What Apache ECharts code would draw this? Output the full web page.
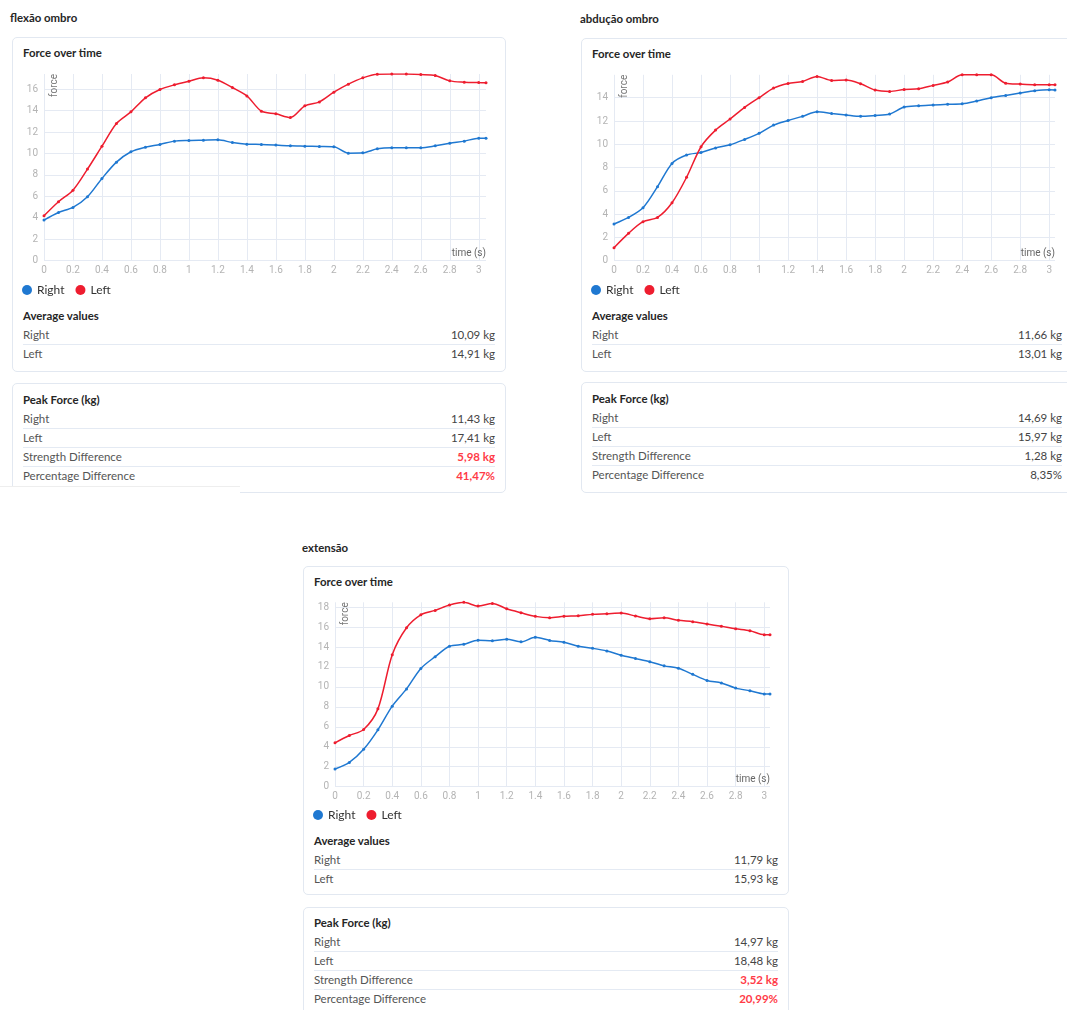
<!DOCTYPE html>
<html>
<head>
<meta charset="utf-8">
<title>Force report</title>
<script src="https://cdn.jsdelivr.net/npm/echarts@6/dist/echarts.min.js"></script>
<style>
  html, body { margin: 0; padding: 0; background: #fff; }
  body { position: relative; width: 1067px; height: 1010px; overflow: hidden;
         font-family: Lato, "Noto Sans", sans-serif; }
  .h { position: absolute; font-weight: 700; font-size: 11.4px; color: #262626;
       line-height: 14px; white-space: nowrap; }
  .card { position: absolute; border: 1px solid #e2e8f1; border-radius: 5px;
          box-sizing: border-box; background: #fff; }
  .row { position: absolute; height: 19px; line-height: 19px; font-size: 11.5px;
         color: #555; white-space: nowrap; }
  .row .v { position: absolute; right: 0; top: 0; color: #444; }
  .row .v.alert { color: #ff3b47; font-weight: 700; }
  .sep { position: absolute; height: 0; border-top: 1px solid #e4eaf3; }
  .mask { position: absolute; left: 0; top: 486px; width: 240px; height: 12px;
          background: #fff; border-top: 1px solid #eeeeee; z-index: 3; }
  #chart { position: absolute; left: 0; top: 0; width: 1067px; height: 1010px; z-index: 2; }
</style>
</head>
<body>
<div id="chart"></div>
<script>
// ---- sample times (s) ----
const flexTime = [0, 0.1, 0.2, 0.3, 0.4, 0.5, 0.6, 0.7, 0.8, 0.9, 1.0, 1.1, 1.2, 1.3, 1.4, 1.5,
                  1.6, 1.7, 1.8, 1.9, 2.0, 2.1, 2.2, 2.3, 2.4, 2.5, 2.6, 2.7, 2.8, 2.9, 3.0, 3.05];
const abdTime  = [0, 0.1, 0.2, 0.3, 0.4, 0.5, 0.6, 0.7, 0.8, 0.9, 1.0, 1.1, 1.2, 1.3, 1.4, 1.5,
                  1.6, 1.7, 1.8, 1.9, 2.0, 2.1, 2.2, 2.3, 2.4, 2.5, 2.6, 2.7, 2.8, 2.9, 3.0, 3.04];
const extTime  = [0, 0.1, 0.2, 0.3, 0.4, 0.5, 0.6, 0.7, 0.8, 0.9, 1.0, 1.1, 1.2, 1.3, 1.4, 1.5,
                  1.6, 1.7, 1.8, 1.9, 2.0, 2.1, 2.2, 2.3, 2.4, 2.5, 2.6, 2.7, 2.8, 2.9, 3.0, 3.04];

// ---- force (kg) : flexão ombro ----
const flexRight = [3.79, 4.5, 4.97, 5.96, 7.67, 9.19, 10.16, 10.59, 10.84, 11.15, 11.21, 11.24, 11.27, 11.02, 10.87, 10.84,
                   10.78, 10.71, 10.68, 10.65, 10.62, 10.03, 10.06, 10.43, 10.53, 10.53, 10.53, 10.71, 10.96, 11.15, 11.43, 11.43];
const flexLeft  = [4.19, 5.5, 6.58, 8.54, 10.68, 12.8, 13.88, 15.19, 15.96, 16.4, 16.74, 17.05, 16.83, 16.15, 15.37, 13.94,
                   13.7, 13.35, 14.44, 14.81, 15.71, 16.46, 17.05, 17.39, 17.41, 17.4, 17.36, 17.27, 16.77, 16.65, 16.61, 16.6];

// ---- force (kg) : abdução ombro ----
const abdRight = [3.15, 3.72, 4.55, 6.36, 8.36, 9.08, 9.3, 9.68, 9.96, 10.42, 10.94, 11.65, 12.05, 12.4, 12.8, 12.65,
                  12.52, 12.4, 12.48, 12.6, 13.2, 13.31, 13.37, 13.43, 13.48, 13.72, 14.0, 14.2, 14.4, 14.6, 14.69, 14.66];
const abdLeft  = [1.12, 2.35, 3.35, 3.72, 4.98, 7.16, 9.79, 11.22, 12.17, 13.17, 14.0, 14.83, 15.23, 15.4, 15.83, 15.49,
                  15.52, 15.2, 14.66, 14.54, 14.71, 14.77, 15.06, 15.35, 15.97, 15.97, 15.97, 15.25, 15.17, 15.12, 15.12, 15.12];

// ---- force (kg) : extensão ----
const extRight = [1.77, 2.43, 3.75, 5.7, 8.07, 9.8, 11.85, 13.03, 14.08, 14.27, 14.68, 14.62, 14.77, 14.52, 14.97, 14.66,
                  14.47, 14.08, 13.87, 13.6, 13.18, 12.85, 12.52, 12.11, 11.87, 11.26, 10.65, 10.4, 9.88, 9.61, 9.3, 9.3];
const extLeft  = [4.4, 5.13, 5.73, 7.8, 13.23, 15.93, 17.23, 17.67, 18.2, 18.48, 18.1, 18.37, 17.83, 17.43, 17.07, 16.93,
                  17.07, 17.13, 17.27, 17.33, 17.4, 17.1, 16.83, 16.93, 16.67, 16.53, 16.3, 16.07, 15.83, 15.63, 15.23, 15.23];

// ---- summary tables ----
const sideNames  = ['Right', 'Left'];
const peakLabels = ['Right', 'Left', 'Strength Difference', 'Percentage Difference'];
const flexAvg  = ['10,09 kg', '14,91 kg'];
const flexPeak = ['11,43 kg', '17,41 kg', '5,98 kg', '41,47%'];
const abdAvg   = ['11,66 kg', '13,01 kg'];
const abdPeak  = ['14,69 kg', '15,97 kg', '1,28 kg', '8,35%'];
const extAvg   = ['11,79 kg', '15,93 kg'];
const extPeak  = ['14,97 kg', '18,48 kg', '3,52 kg', '20,99%'];
const flexAlert = [false, false, true, true];
const abdAlert  = [false, false, false, false];
const extAlert  = [false, false, true, true];

const BLUE = '#1f78d1';
const RED = '#ee1d2f';

// page layout of each exercise block
const panels = [
  { title: 'flexão ombro', time: flexTime, right: flexRight, left: flexLeft,
    avg: flexAvg, peak: flexPeak, alert: flexAlert,
    titlePos: [10, 18], chartCard: [12, 37, 494, 335], peakCard: [12, 383, 494, 110],
    textL: 23, textR: 495, fotY: 53, legendY: 290, avgY: 316, avgRows: [334, 353],
    peakY: 400, peakRows: [418, 437, 456, 475],
    grid: { left: 44, top: 74, width: 442, height: 186.7 } },
  { title: 'abdução ombro', time: abdTime, right: abdRight, left: abdLeft,
    avg: abdAvg, peak: abdPeak, alert: abdAlert,
    titlePos: [580, 19], chartCard: [581, 38, 500, 334], peakCard: [581, 382, 500, 111],
    textL: 592, textR: 1062, fotY: 54, legendY: 290, avgY: 316, avgRows: [334, 353],
    peakY: 399, peakRows: [417, 436, 455, 474],
    grid: { left: 614, top: 74.8, width: 441, height: 185.9 } },
  { title: 'extensão', time: extTime, right: extRight, left: extLeft,
    avg: extAvg, peak: extPeak, alert: extAlert,
    titlePos: [302, 548], chartCard: [303, 566, 486, 329], peakCard: [303, 907, 486, 130],
    textL: 314, textR: 778, fotY: 582, legendY: 815, avgY: 841, avgRows: [859, 878],
    peakY: 923, peakRows: [941, 960, 979, 998],
    grid: { left: 335, top: 602.3, width: 435, height: 184.4 } }
];

function el(cls, css, text) {
  const d = document.createElement('div');
  d.className = cls;
  Object.assign(d.style, css);
  if (text !== undefined) d.textContent = text;
  document.body.appendChild(d);
  return d;
}
function px(v) { return v + 'px'; }

function heading(text, x, cy) {
  el('h', { left: px(x), top: px(cy - 7) }, text);
}

function rows(p, labels, values, centers, alerts) {
  const w = p.textR - p.textL;
  centers.forEach((cy, i) => {
    const r = el('row', { left: px(p.textL), top: px(cy - 9.5), width: px(w) }, labels[i]);
    const v = document.createElement('span');
    v.className = 'v' + (alerts && alerts[i] ? ' alert' : '');
    v.textContent = values[i];
    r.appendChild(v);
    if (i < centers.length - 1) {
      const mid = (cy + centers[i + 1]) / 2;
      el('sep', { left: px(p.textL), top: px(Math.round(mid)), width: px(w) });
    }
  });
}

panels.forEach(p => {
  heading(p.title, p.titlePos[0], p.titlePos[1]);
  const c1 = p.chartCard, c2 = p.peakCard;
  el('card', { left: px(c1[0]), top: px(c1[1]), width: px(c1[2]), height: px(c1[3]) });
  el('card', { left: px(c2[0]), top: px(c2[1]), width: px(c2[2]), height: px(c2[3]) });
  heading('Force over time', p.textL, p.fotY);
  heading('Average values', p.textL, p.avgY);
  rows(p, sideNames, p.avg, p.avgRows, null);
  heading('Peak Force (kg)', p.textL, p.peakY);
  rows(p, peakLabels, p.peak, p.peakRows, p.alert);
});
el('mask', {});

// ---- charts: one grid per exercise ----
const gridColor = '#e5eaf3';
const labelColor = '#b4b4b4';
const option = {
  backgroundColor: 'transparent',
  animation: false,
  textStyle: { fontFamily: 'Roboto, sans-serif' },
  grid: panels.map(p => Object.assign({}, p.grid)),
  legend: panels.map(p => ({
    data: sideNames,
    left: p.textL - 1,
    top: p.legendY - 6,
    padding: 0,
    icon: 'circle',
    itemWidth: 10,
    itemHeight: 10,
    itemGap: 11,
    selectedMode: false,
    textStyle: { fontSize: 12, color: '#333', fontFamily: 'Lato, sans-serif' }
  })),
  xAxis: panels.map((p, i) => ({
    type: 'value',
    gridIndex: i,
    min: 0,
    max: p.time[p.time.length - 1],
    interval: 0.2,
    axisLine: { show: false },
    axisTick: { show: false },
    axisLabel: {
      color: labelColor, fontSize: 10, margin: 5, showMaxLabel: false,
      formatter: v => String(Math.round(v * 10) / 10)
    },
    splitLine: { show: true, showMaxLine: false, lineStyle: { color: gridColor, width: 1 } },
    name: 'time (s)',
    nameLocation: 'end',
    nameGap: 0,
    nameTextStyle: { color: '#666', fontSize: 10, align: 'right', verticalAlign: 'bottom',
                     padding: [0, 0, 2, 0] }
  })),
  yAxis: panels.map((p, i) => ({
    type: 'value',
    gridIndex: i,
    min: 0,
    max: Math.max(...p.right, ...p.left),
    interval: 2,
    axisLine: { show: false },
    axisTick: { show: false },
    axisLabel: { color: labelColor, fontSize: 10, margin: 6, showMaxLabel: false },
    splitLine: { show: true, showMaxLine: false, lineStyle: { color: gridColor, width: 1 } },
    name: 'force',
    nameLocation: 'end',
    nameGap: 0,
    nameRotate: 90,
    nameTextStyle: { color: '#777', fontSize: 10, align: 'right', verticalAlign: 'top',
                     padding: [5, 0, 0, 1] }
  })),
  series: []
};

panels.forEach((p, i) => {
  [['Right', p.right, BLUE], ['Left', p.left, RED]].forEach(([name, vals, color]) => {
    option.series.push({
      name: name,
      type: 'line',
      xAxisIndex: i,
      yAxisIndex: i,
      data: p.time.map((t, k) => [t, vals[k]]),
      smooth: 0.3,
      symbol: 'circle',
      symbolSize: 3,
      showSymbol: true,
      itemStyle: { color: color },
      lineStyle: { color: color, width: 1.5 },
      emphasis: { disabled: true }
    });
  });
});

const chart = echarts.init(document.getElementById('chart'), null, { renderer: 'canvas' });
chart.setOption(option);
</script>
</body>
</html>
